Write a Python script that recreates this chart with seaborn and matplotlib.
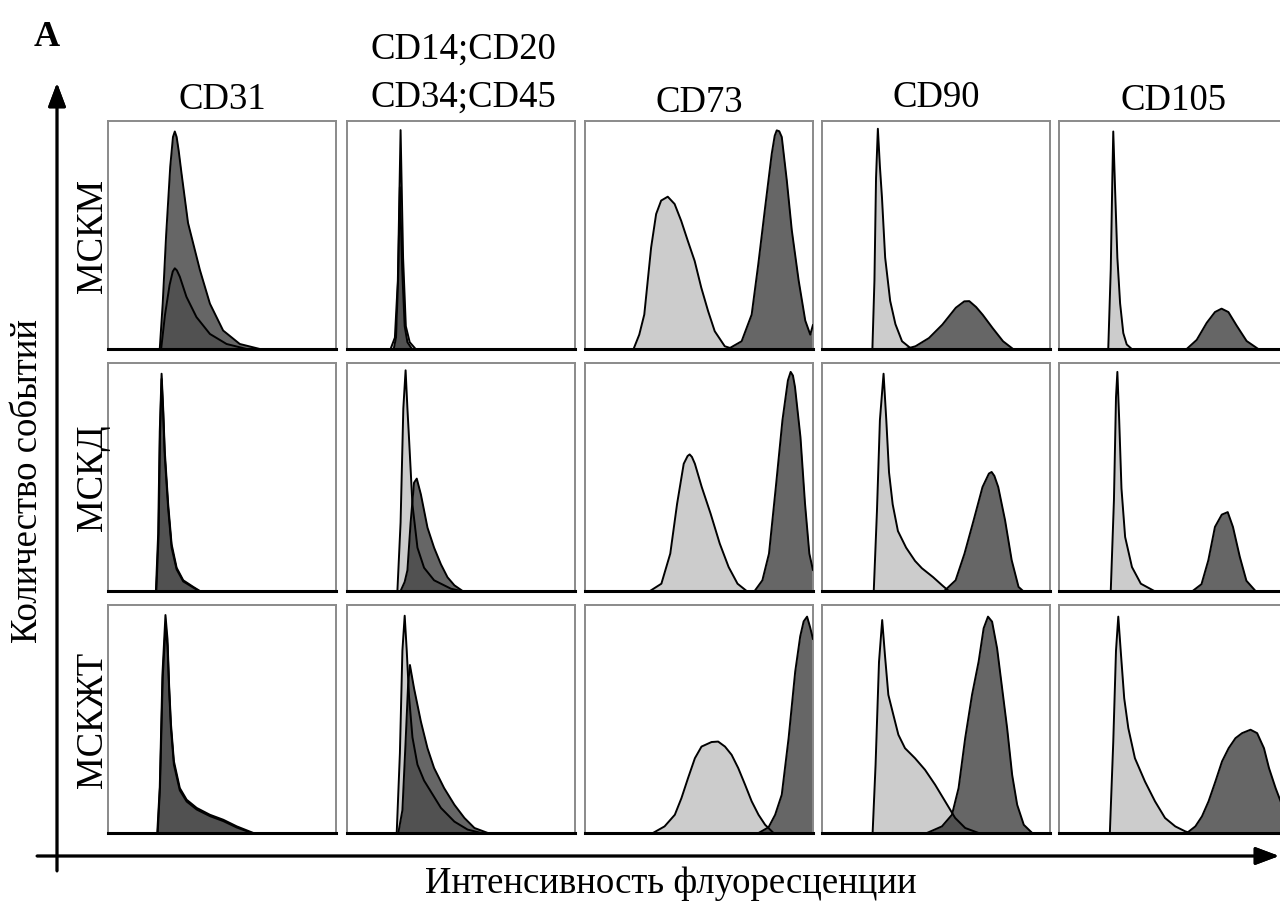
import numpy as np
import matplotlib
matplotlib.use("Agg")
import matplotlib.pyplot as plt
import seaborn as sns

# ---------------- data (x: % of log fluorescence axis, y: % of panel height) ----------------
MARKERS = ["CD31", "CD14;CD20\nCD34;CD45", "CD73", "CD90", "CD105"]
CELL_TYPES = ["МСКМ", "МСКД", "МСКЖТ"]

# Row 1: МСКМ
M_CD31_ISO = [(23.3, 0), (25.0, 15), (27.0, 28), (28.4, 34), (29.3, 35.4), (30.2, 34.5), (31.5, 31.7),
              (34.4, 22.9), (38.8, 14.0), (44.7, 6.6), (52.0, 2.2), (60.8, 0)]
M_CD31_POS = [(22.7, 0), (24.0, 20), (25.5, 50), (27.3, 80), (28.5, 93), (29.3, 95.4), (30.1, 93),
              (31.0, 87), (32.2, 77.4), (35.1, 55.3), (40.3, 34.7), (44.7, 19.9), (50.5, 8.1),
              (57.8, 2.2), (66.6, 0)]
M_HEM_ISO = [(19.1, 0), (21.0, 5), (22.3, 30), (23.5, 96), (24.6, 40), (25.8, 10), (27.5, 3), (30.1, 0)]
M_HEM_POS = [(20.5, 0), (21.5, 5), (22.4, 30), (23.2, 71), (24.2, 35), (25.3, 10), (26.5, 3), (28.5, 0)]
M_CD73_ISO = [(21.3, 0), (23.8, 6.3), (26.0, 15.1), (29.0, 44.5), (31.2, 59.2), (33.4, 65.1), (36.3, 66.8),
              (39.3, 63.6), (42.2, 56.2), (45.1, 47.4), (48.1, 38.6), (51.0, 26.9), (54.0, 16.6),
              (56.9, 7.8), (61.3, 1.2), (65.0, 0)]
M_CD73_POS = [(62.8, 0), (68.7, 3.4), (73.1, 15.1), (76.0, 37.2), (79.0, 62.1), (81.9, 85.6), (83.2, 93.5),
              (84.1, 95.9), (85.2, 95.5), (86.3, 93.0), (88.5, 74.0), (90.7, 52.1), (93.7, 30.1),
              (96.6, 12.5), (98.8, 6.3), (100, 10.6)]
M_CD90_ISO = [(22.1, 0), (23.0, 30), (23.7, 75), (24.5, 96.6), (25.4, 80), (26.3, 66.5), (27.7, 40.1),
              (29.9, 21.1), (32.2, 10.9), (35.1, 3.4), (38.8, 0.4), (41.0, 0)]
M_CD90_POS = [(36.6, 0), (41.0, 1.2), (46.9, 4.8), (52.8, 10.7), (58.7, 18.1), (62.4, 20.9), (64.6, 21.0),
              (67.6, 18.4), (70.5, 15.0), (74.9, 9.1), (79.4, 3.4), (83.8, 0)]
M_CD105_ISO = [(21.6, 0), (22.7, 35), (23.4, 75), (23.8, 95.4), (24.6, 70), (25.6, 40), (26.8, 20),
               (28.2, 7), (29.7, 2), (31.9, 0)]
M_CD105_POS = [(56.0, 0), (60.4, 4), (64.8, 11.5), (68.4, 16.2), (71.3, 17.7), (74.3, 16.2), (77.9, 10.3),
               (82.3, 3.5), (87.4, 0)]

# Row 2: МСКД
D_CD31_ISO = [(21.2, 0), (22.2, 25), (22.8, 68), (23.5, 93), (24.2, 78), (24.9, 59), (26.4, 36), (27.9, 19),
              (30.1, 9.5), (33.0, 4.2), (37.4, 1.5), (40.0, 0)]
D_CD31_POS = [(21.0, 0), (22.0, 25), (22.7, 70), (23.5, 95.3), (24.2, 80), (24.9, 61.4), (26.4, 38.0),
              (27.9, 20.5), (30.1, 10.2), (33.0, 4.7), (37.4, 1.8), (40.3, 0)]
D_HEM_ISO = [(22.1, 0), (23.5, 30), (24.7, 80), (25.7, 96.8), (26.5, 80), (27.2, 67.0), (28.7, 38.0),
             (30.9, 19.0), (33.8, 10.2), (38.2, 4.7), (45.6, 1.0), (50.0, 0)]
D_HEM_POS = [(23.5, 0), (25.3, 4), (26.5, 9.1), (27.9, 30), (29.4, 47.5), (30.6, 49.3), (32.4, 42.4),
             (35.3, 27.8), (38.2, 19.0), (41.2, 11.7), (44.1, 6.0), (47.1, 2.5), (50.7, 0)]
D_CD73_ISO = [(28.5, 0), (33.5, 3.2), (37.4, 16.4), (40.4, 38.3), (43.3, 55.8), (45.0, 59.2), (45.9, 59.9),
              (46.9, 58.8), (48.2, 55.8), (51.2, 45.6), (55.1, 33.9), (59.1, 20.8), (63.0, 10.5),
              (66.9, 3.2), (70.9, 0)]
D_CD73_POS = [(74.4, 0), (77.8, 4.7), (80.7, 16.4), (83.7, 45.6), (86.6, 74.9), (89.0, 92.4), (90.2, 96.1),
              (91.2, 94.5), (92.1, 89.5), (94.5, 67.5), (96.5, 38.3), (98.4, 16.4), (100, 9.1)]
D_CD90_ISO = [(22.7, 0), (24.1, 35), (25.4, 75), (27.0, 95.3), (28.2, 75), (29.4, 52), (31.0, 38.0),
              (33.3, 26.3), (36.9, 19.0), (40.8, 13.2), (43.8, 10.0), (48.7, 6.1), (52.7, 2.5), (55.6, 0)]
D_CD90_POS = [(53.6, 0), (58.6, 4.7), (62.5, 16.4), (66.5, 31.0), (70.4, 45.6), (73.2, 51.5), (74.4, 52.2),
              (75.6, 50.5), (77.3, 45.6), (80.3, 31.0), (83.2, 13.5), (86.2, 1.8), (88.2, 0)]
D_CD105_ISO = [(22.7, 0), (24.1, 40), (25.0, 85), (25.6, 96.1), (26.4, 75), (27.4, 45), (29.0, 23.7),
               (32.0, 10.5), (35.9, 3.2), (41.8, 0)]
D_CD105_POS = [(58.6, 0), (62.5, 3), (65.5, 13.5), (68.4, 28.1), (71.4, 33.5), (74.0, 34.6), (76.3, 28.1),
               (79.3, 15), (82.2, 4.5), (86.2, 0)]

# Row 3: МСКЖТ
T_CD31_ISO = [(21.8, 0), (22.8, 20), (24.0, 68), (25.2, 90), (26.1, 82), (26.8, 63), (27.6, 46), (28.9, 30),
              (31.5, 18.7), (34.5, 13.8), (38.9, 10.3), (44.7, 7.4), (50.6, 5.2), (56.5, 2.4), (63.0, 0)]
T_CD31_POS = [(21.6, 0), (22.7, 20), (23.9, 70), (25.2, 95.6), (26.1, 85), (26.8, 65), (27.6, 48),
              (28.9, 31.5), (31.5, 19.7), (34.5, 14.6), (38.9, 11.0), (44.7, 8.0), (50.6, 5.8),
              (56.5, 2.9), (63.8, 0)]
T_HEM_ISO = [(21.8, 0), (23.2, 35), (24.3, 80), (25.3, 95.3), (26.2, 80), (27.2, 60), (28.7, 42),
             (30.9, 30), (33.8, 23), (37.5, 17), (41.2, 11), (47.1, 5), (52.9, 1.5), (58.8, 0)]
T_HEM_POS = [(22.5, 0), (24.3, 10), (25.7, 40), (26.8, 65), (27.6, 73.7), (29.4, 63.5), (32.4, 48.9),
             (35.3, 37.2), (38.2, 28.5), (42.6, 19.7), (47.1, 12.4), (51.5, 6.6), (55.9, 2.2), (61.8, 0)]
T_CD73_ISO = [(29.8, 0), (34.9, 2.9), (39.4, 8.0), (42.3, 15.3), (45.2, 24.1), (48.2, 32.8), (51.1, 37.9),
              (55.5, 39.9), (58.4, 40.1), (61.4, 37.9), (64.3, 34.3), (67.2, 28.5), (70.2, 21.2),
              (73.1, 13.9), (76.1, 8.0), (79.0, 3.6), (82.7, 0)]
T_CD73_POS = [(76.1, 0), (80.5, 2.5), (83.4, 8.0), (86.3, 16.8), (89.3, 41.6), (92.2, 70.8), (94.4, 86.3),
              (95.9, 92.8), (97.4, 94.9), (98.8, 90), (100, 85)]
T_CD90_ISO = [(22.2, 0), (23.5, 30), (25.0, 75), (26.4, 93.4), (27.6, 78.1), (29.1, 60.6), (31.3, 51.8),
              (33.5, 43.1), (36.4, 37.2), (40.8, 32.8), (45.2, 27.7), (49.6, 21.2), (54.0, 13.9),
              (58.4, 6.6), (62.8, 2.2), (68.7, 0)]
T_CD90_POS = [(46.0, 0), (52.6, 2.9), (57.0, 8.0), (59.9, 19.7), (62.8, 41.6), (65.8, 60.6), (68.7, 75.2),
              (70.9, 89.8), (72.8, 94.9), (74.6, 92.7), (76.8, 81.0), (79.0, 63.5), (81.2, 46.0),
              (83.4, 25.5), (85.6, 12.4), (88.5, 3.6), (92.2, 0)]
T_CD105_ISO = [(22.3, 0), (23.8, 40), (25.0, 80), (26.0, 94.9), (27.2, 78.1), (28.6, 59.1), (30.4, 46.0),
               (33.3, 32.8), (37.7, 22.6), (42.1, 13.9), (46.5, 6.6), (51.0, 2.9), (55.4, 0.7), (57.6, 0)]
T_CD105_POS = [(56.1, 0), (59.8, 2.9), (62.7, 7.3), (65.6, 13.9), (68.6, 22.6), (71.5, 31.4), (74.4, 37.2),
               (77.4, 41.6), (80.3, 43.8), (84.0, 45.3), (86.9, 43.8), (89.9, 37.2), (92.1, 28.5),
               (95.0, 19.7), (97.2, 13.9), (100, 6)]

ISOTYPE = [
    [M_CD31_ISO, M_HEM_ISO, M_CD73_ISO, M_CD90_ISO, M_CD105_ISO],
    [D_CD31_ISO, D_HEM_ISO, D_CD73_ISO, D_CD90_ISO, D_CD105_ISO],
    [T_CD31_ISO, T_HEM_ISO, T_CD73_ISO, T_CD90_ISO, T_CD105_ISO],
]
STAINED = [
    [M_CD31_POS, M_HEM_POS, M_CD73_POS, M_CD90_POS, M_CD105_POS],
    [D_CD31_POS, D_HEM_POS, D_CD73_POS, D_CD90_POS, D_CD105_POS],
    [T_CD31_POS, T_HEM_POS, T_CD73_POS, T_CD90_POS, T_CD105_POS],
]

# ---------------- layout ----------------
W, H = 1280, 904
sns.set_theme(style="white")
plt.rcParams["font.family"] = ["Liberation Serif", "DejaVu Serif"]
plt.rcParams["text.color"] = "black"

fig = plt.figure(figsize=(W / 100, H / 100), dpi=100)
fig.patch.set_facecolor("white")

col_left = [108, 347, 585, 822, 1059]
row_top = [122, 364, 606]
pw, ph = 228, 228
FS = 26.5


def fx(px):
    return px / W


def fy(py):
    return 1 - py / H


for r in range(3):
    for c in range(5):
        ax = fig.add_axes([fx(col_left[c]), fy(row_top[r] + ph), pw / W, ph / H])
        iso = np.array(ISOTYPE[r][c], dtype=float)
        pos = np.array(STAINED[r][c], dtype=float)
        ax.fill_between(iso[:, 0], iso[:, 1], 0, color="#cccccc", lw=0, zorder=1)
        ax.fill_between(pos[:, 0], pos[:, 1], 0, color="black", alpha=0.6, lw=0, zorder=2)
        sns.lineplot(x=iso[:, 0], y=iso[:, 1], ax=ax, color="black", lw=1.4,
                     sort=False, estimator=None, zorder=3)
        sns.lineplot(x=pos[:, 0], y=pos[:, 1], ax=ax, color="black", lw=1.4,
                     sort=False, estimator=None, zorder=3)
        ax.set_xlim(0, 100)
        ax.set_ylim(0, 100)
        ax.set_xticks([])
        ax.set_yticks([])
        ax.set_xlabel("")
        ax.set_ylabel("")
        for s in ("top", "left", "right"):
            ax.spines[s].set_color("#8a8a8a")
            ax.spines[s].set_linewidth(1.4)
        ax.spines["bottom"].set_color("black")
        ax.spines["bottom"].set_linewidth(2.2)
        ax.set_facecolor("white")

# column headers
hdr_y = [100, 97, 103, 98, 101]
for c, name in enumerate(MARKERS):
    cx = col_left[c] + pw / 2
    if "\n" in name:
        top, bottom = name.split("\n")
        fig.text(fx(cx + 2), fy(49), top, ha="center", va="center", fontsize=FS, color="black")
        fig.text(fx(cx + 2), fy(hdr_y[c]), bottom, ha="center", va="center", fontsize=FS, color="black")
    else:
        fig.text(fx(cx), fy(hdr_y[c]), name, ha="center", va="center", fontsize=FS, color="black")

# row labels
for r, name in enumerate(CELL_TYPES):
    cy = row_top[r] + ph / 2
    fig.text(fx(93), fy(cy), name, ha="center", va="center", rotation=90, fontsize=FS, color="black")

# axis titles
fig.text(fx(28), fy(481), "Количество событий", ha="center", va="center", rotation=90,
         fontsize=FS, color="black")
fig.text(fx(671), fy(884), "Интенсивность флуоресценции", ha="center", va="center",
         fontsize=FS, color="black")
fig.text(fx(47), fy(37), "A", ha="center", va="center", fontsize=26, fontweight="bold", color="black")

# axis arrows
arrow_kw = dict(arrowstyle="-|>,head_length=0.8,head_width=0.3", lw=2, color="black",
                mutation_scale=18, shrinkA=0, shrinkB=0)
fig.add_artist(plt.annotate("", xy=(fx(57), fy(84)), xytext=(fx(57), fy(872)),
                            xycoords="figure fraction", textcoords="figure fraction",
                            arrowprops=arrow_kw))
fig.add_artist(plt.annotate("", xy=(fx(1279), fy(857)), xytext=(fx(37), fy(857)),
                            xycoords="figure fraction", textcoords="figure fraction",
                            arrowprops=arrow_kw))

fig.savefig("out.png", dpi=100, facecolor="white")
